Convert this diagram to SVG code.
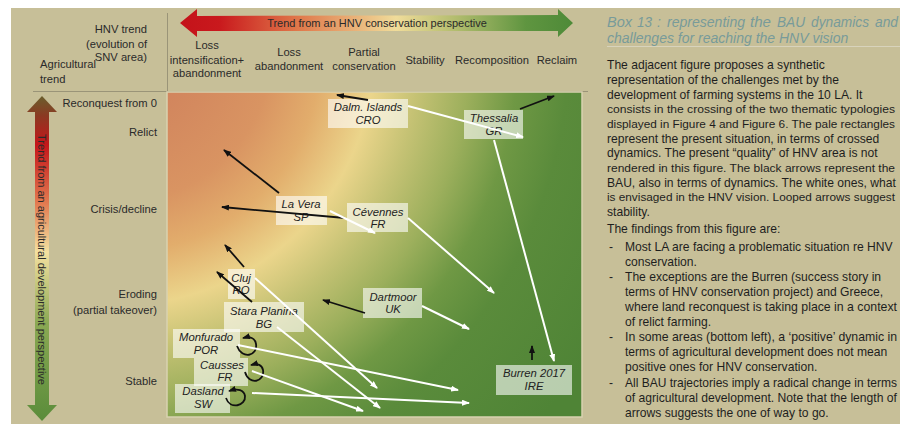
<svg xmlns="http://www.w3.org/2000/svg" width="900" height="424" viewBox="0 0 900 424">
<defs>
<style>
.hd{font-family:"Liberation Sans",Arial,sans-serif;font-size:11.2px;fill:#2a2a2a}
.nd{font-family:"Liberation Sans",Arial,sans-serif;font-size:11.3px;font-style:italic;fill:#222;text-anchor:middle}
.box{fill:#ffffff;fill-opacity:0.6}
.bt{font-family:"Liberation Sans",Arial,sans-serif;font-size:12.1px;fill:#1e1e1e}
.sm{font-size:11.6px}
.tt{font-family:"Liberation Sans",Arial,sans-serif;font-size:14px;font-style:italic;fill:#789b9a}
.blk{stroke:#111;stroke-width:1.8;fill:none;marker-end:url(#hb)}
.wht{stroke:#fff;stroke-width:2;fill:none;marker-end:url(#hw)}
</style>
<marker id="hb" viewBox="0 0 8 6" refX="7" refY="3" markerWidth="8" markerHeight="6" markerUnits="userSpaceOnUse" orient="auto"><path d="M0,0 L8,3 L0,6 z" fill="#111"/></marker>
<marker id="hw" viewBox="0 0 8 6" refX="7" refY="3" markerWidth="8" markerHeight="6" markerUnits="userSpaceOnUse" orient="auto"><path d="M0,0 L8,3 L0,6 z" fill="#fff"/></marker>
<radialGradient id="plot" gradientUnits="userSpaceOnUse" cx="120" cy="50" r="560">
<stop offset="0" stop-color="#cc7a5a"/>
<stop offset="0.27" stop-color="#d99462"/>
<stop offset="0.36" stop-color="#e2ad6c"/>
<stop offset="0.455" stop-color="#ebd58b"/>
<stop offset="0.535" stop-color="#c5c274"/>
<stop offset="0.625" stop-color="#9caf5c"/>
<stop offset="0.71" stop-color="#6f9844"/>
<stop offset="0.80" stop-color="#5a8b3b"/>
<stop offset="1" stop-color="#4f8436"/>
</radialGradient>
<linearGradient id="harr" gradientUnits="userSpaceOnUse" x1="180" y1="0" x2="573" y2="0">
<stop offset="0" stop-color="#c4121a"/>
<stop offset="0.1" stop-color="#c9191d"/>
<stop offset="0.3" stop-color="#e0784a"/>
<stop offset="0.55" stop-color="#f0dc9a"/>
<stop offset="0.7" stop-color="#b3bd6e"/>
<stop offset="0.88" stop-color="#5f9540"/>
<stop offset="1" stop-color="#4e8a38"/>
</linearGradient>
<linearGradient id="varr" gradientUnits="userSpaceOnUse" x1="0" y1="96" x2="0" y2="421">
<stop offset="0" stop-color="#6a5e2c"/>
<stop offset="0.06" stop-color="#8a3a22"/>
<stop offset="0.15" stop-color="#c4161a"/>
<stop offset="0.33" stop-color="#e27a50"/>
<stop offset="0.48" stop-color="#f4e0a0"/>
<stop offset="0.7" stop-color="#8aa853"/>
<stop offset="1" stop-color="#5a8c3a"/>
</linearGradient>
</defs>
<rect x="0" y="0" width="900" height="424" fill="#ffffff"/>
<rect x="11" y="8" width="889" height="416" fill="#c7bf98"/>

<!-- header lines -->
<line x1="33" y1="91.5" x2="588" y2="91.5" stroke="#9a9478" stroke-width="1"/>
<line x1="167.5" y1="13" x2="167.5" y2="91" stroke="#9a9478" stroke-width="1"/>

<!-- top arrow -->
<path d="M180,23 L197,9 L197,16 L558,15 L558,9 L573,23 L558,37 L558,31 L197,31 L197,37 z" fill="url(#harr)"/>
<text x="377" y="27" class="hd" text-anchor="middle" style="font-size:11px">Trend from an HNV conservation perspective</text>

<!-- left arrow -->
<path d="M42,96 L57,112 L49,112 L49,405 L57,405 L42,421 L27,405 L35,405 L35,112 L27,112 z" fill="url(#varr)"/>
<text transform="translate(38,259.5) rotate(90)" class="hd" text-anchor="middle" style="font-size:11px">Trend from an agricultural development perspective</text>

<!-- corner headers -->
<g class="hd" text-anchor="end">
<text x="147" y="33">HNV trend</text>
<text x="147" y="48">(evolution of</text>
<text x="147" y="61">SNV area)</text>
</g>
<text x="40" y="68" class="hd">Agricultural</text>
<text x="40" y="83" class="hd">trend</text>

<!-- column headers -->
<g class="hd" text-anchor="middle">
<text x="207" y="49">Loss</text>
<text x="207" y="64">intensification+</text>
<text x="207" y="77">abandonment</text>
<text x="289" y="56">Loss</text>
<text x="289" y="70">abandonment</text>
<text x="364" y="56">Partial</text>
<text x="364" y="70">conservation</text>
<text x="425" y="64">Stability</text>
<text x="492" y="64">Recomposition</text>
<text x="557" y="64">Reclaim</text>
</g>

<!-- row headers -->
<g class="hd" text-anchor="end">
<text x="157" y="107">Reconquest from 0</text>
<text x="157" y="136">Relict</text>
<text x="157" y="213">Crisis/decline</text>
<text x="157" y="298">Eroding</text>
<text x="157" y="314">(partial takeover)</text>
<text x="157" y="385">Stable</text>
</g>

<!-- plot area -->
<rect x="167" y="92" width="415" height="325" fill="url(#plot)" stroke="#d9d2b0" stroke-width="1.5"/>

<!-- nodes -->
<g id="dalm"><rect class="box" x="328" y="99" width="80" height="29"/><text class="nd" x="368" y="111">Dalm. Islands</text><text class="nd" x="368" y="124">CRO</text></g>
<g id="thessalia"><rect class="box" x="464" y="110" width="59" height="29"/><text class="nd" x="494" y="122">Thessalia</text><text class="nd" x="494" y="135">GR</text></g>
<g id="lavera"><rect class="box" x="276" y="196" width="51" height="29"/><text class="nd" x="301" y="208">La Vera</text><text class="nd" x="301" y="221">SP</text></g>
<g id="cevennes"><rect class="box" x="347" y="203" width="61" height="29"/><text class="nd" x="378" y="216">Cévennes</text><text class="nd" x="378" y="228">FR</text></g>
<g id="cluj"><rect class="box" x="228" y="269" width="27" height="30"/><text class="nd" x="241" y="282">Cluj</text><text class="nd" x="241" y="294">RO</text></g>
<g id="stara"><rect class="box" x="224" y="302" width="80" height="30"/><text class="nd" x="264" y="315">Stara Planina</text><text class="nd" x="264" y="328">BG</text></g>
<g id="dartmoor"><rect class="box" x="363" y="288" width="59" height="30"/><text class="nd" x="393" y="301">Dartmoor</text><text class="nd" x="393" y="313">UK</text></g>
<g id="monfurado"><rect class="box" x="173" y="329" width="67" height="29"/><text class="nd" x="206" y="341">Monfurado</text><text class="nd" x="206" y="354">POR</text></g>
<g id="causses"><rect class="box" x="194" y="358" width="54" height="28"/><text class="nd" x="222" y="369">Causses</text><text class="nd" x="225" y="381">FR</text></g>
<g id="dasland"><rect class="box" x="175" y="384" width="55" height="29"/><text class="nd" x="203" y="395">Dasland</text><text class="nd" x="203" y="408">SW</text></g>
<g id="burren"><rect class="box" x="496" y="365" width="76" height="30"/><text class="nd" x="534" y="377">Burren 2017</text><text class="nd" x="534" y="390">IRE</text></g>

<!-- connectors -->
<g id="connectors">
<line class="blk" x1="368" y1="100" x2="337" y2="95"/>
<line class="blk" x1="520" y1="109" x2="554" y2="96"/>
<line class="blk" x1="279" y1="193" x2="224" y2="150"/>
<line class="blk" x1="345" y1="218" x2="222" y2="207"/>
<line class="blk" x1="244" y1="267" x2="225" y2="245"/>
<line class="blk" x1="252" y1="302" x2="217" y2="272"/>
<line class="blk" x1="365" y1="313" x2="323" y2="300"/>
<line class="blk" x1="532" y1="360" x2="532" y2="346"/>
<path class="blk" d="M237,346 C242,360 258,356 256,344 C255,338 250,336 243,338"/>
<path class="blk" d="M245,372 C249,386 265,382 263,370 C262,365 258,363 251,365"/>
<path class="blk" d="M226,398 C230,410 246,406 245,396 C244,390 238,388 229,391"/>
<line class="wht" x1="408" y1="106" x2="523" y2="137"/>
<line class="wht" x1="494" y1="140" x2="554" y2="361"/>
<line class="wht" x1="330" y1="211" x2="375" y2="233"/>
<line class="wht" x1="408" y1="218" x2="494" y2="293"/>
<line class="wht" x1="422" y1="306" x2="469" y2="329"/>
<line class="wht" x1="255" y1="278" x2="377" y2="388"/>
<line class="wht" x1="277" y1="327" x2="380" y2="408"/>
<line class="wht" x1="238" y1="345" x2="458" y2="390"/>
<line class="wht" x1="252" y1="371" x2="363" y2="411"/>
<line class="wht" x1="252" y1="393" x2="469" y2="403"/>
</g>

<!-- right text box -->
<text class="tt" y="27"><tspan x="607" textLength="25" lengthAdjust="spacingAndGlyphs">Box</tspan><tspan x="637" textLength="15" lengthAdjust="spacingAndGlyphs">13</tspan><tspan x="657">:</tspan><tspan x="667" textLength="78" lengthAdjust="spacingAndGlyphs">representing</tspan><tspan x="750" textLength="21" lengthAdjust="spacingAndGlyphs">the</tspan><tspan x="777" textLength="28" lengthAdjust="spacingAndGlyphs">BAU</tspan><tspan x="811" textLength="58" lengthAdjust="spacingAndGlyphs">dynamics</tspan><tspan x="875" textLength="23" lengthAdjust="spacingAndGlyphs">and</tspan></text>
<text class="tt" x="607" y="43">challenges for reaching the HNV vision</text>
<line x1="607" y1="46.5" x2="900" y2="46.5" stroke="#d8d3bc" stroke-width="1"/>
<g class="bt">
<text x="607" y="69">The adjacent figure proposes a synthetic</text>
<text x="607" y="84">representation of the challenges met by the</text>
<text x="607" y="98.5">development of farming systems in the 10 LA. It</text>
<text x="607" y="113" class="sm" textLength="288" lengthAdjust="spacingAndGlyphs">consists in the crossing of the two thematic typologies</text>
<text x="607" y="128" class="sm" textLength="288" lengthAdjust="spacingAndGlyphs">displayed in Figure 4 and Figure 6. The pale rectangles</text>
<text x="607" y="142.5">represent the present situation, in terms of crossed</text>
<text x="607" y="157">dynamics. The present “quality” of HNV area is not</text>
<text x="607" y="172" class="sm" textLength="288" lengthAdjust="spacingAndGlyphs">rendered in this figure. The black arrows represent the</text>
<text x="607" y="186.5">BAU, also in terms of dynamics. The white ones, what</text>
<text x="607" y="201" class="sm" textLength="288" lengthAdjust="spacingAndGlyphs">is envisaged in the HNV vision. Looped arrows suggest</text>
<text x="607" y="216">stability.</text>
<text x="607" y="233">The findings from this figure are:</text>
<text x="609" y="251">-</text><text x="625" y="251">Most LA are facing a problematic situation re HNV</text>
<text x="625" y="266">conservation.</text>
<text x="609" y="281">-</text><text x="625" y="281">The exceptions are the Burren (success story in</text>
<text x="625" y="296">terms of HNV conservation project) and Greece,</text>
<text x="625" y="311" textLength="272" lengthAdjust="spacingAndGlyphs">where land reconquest is taking place in a context</text>
<text x="625" y="326">of relict farming.</text>
<text x="609" y="341">-</text><text x="625" y="341" textLength="272" lengthAdjust="spacingAndGlyphs">In some areas (bottom left), a ‘positive’ dynamic in</text>
<text x="625" y="356">terms of agricultural development does not mean</text>
<text x="625" y="371">positive ones for HNV conservation.</text>
<text x="609" y="387">-</text><text x="625" y="387" textLength="272" lengthAdjust="spacingAndGlyphs">All BAU trajectories imply a radical change in terms</text>
<text x="625" y="402" textLength="272" lengthAdjust="spacingAndGlyphs">of agricultural development. Note that the length of</text>
<text x="625" y="417">arrows suggests the one of way to go.</text>
</g>
</svg>
